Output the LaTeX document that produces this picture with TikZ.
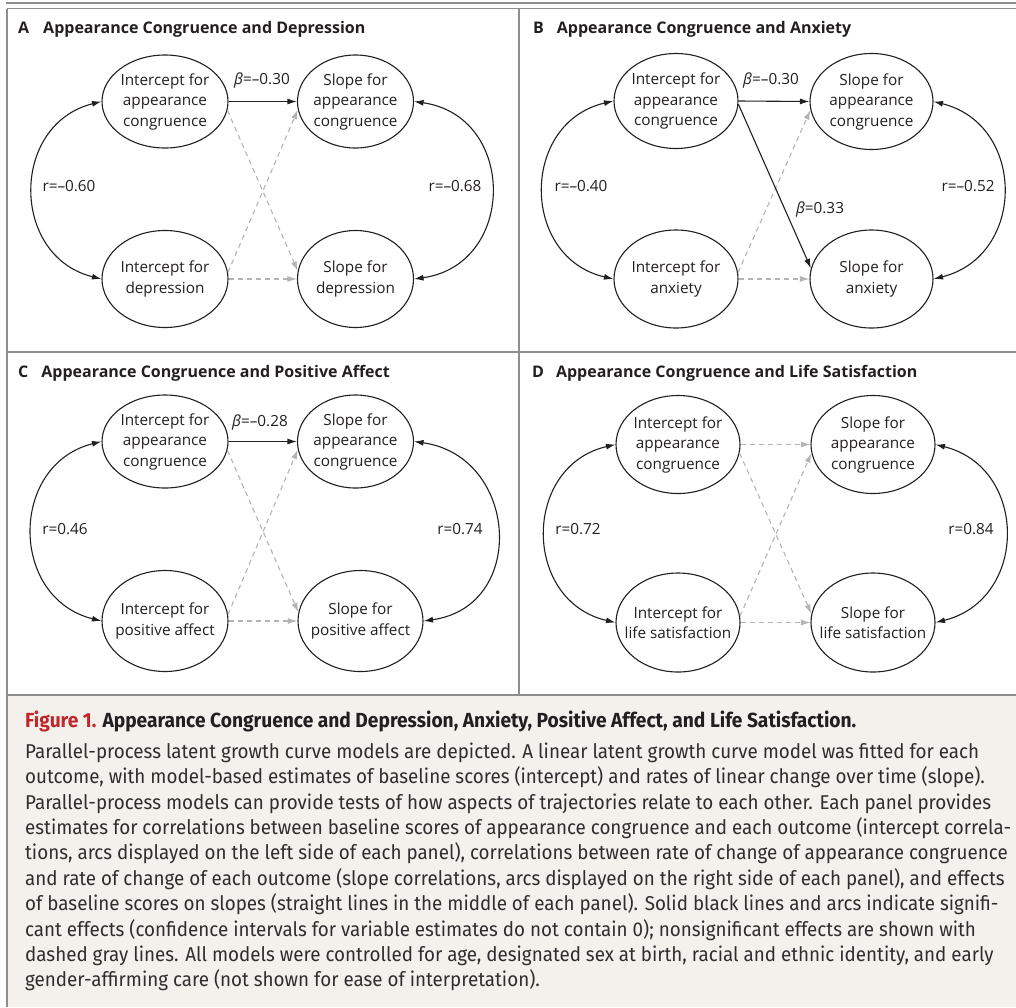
\documentclass[tikz,border=0pt]{standalone}
\usepackage{fontspec}
\setmainfont{Open Sans}
\newfontfamily\capfont[FakeStretch=0.94]{Fira Sans}
\usetikzlibrary{arrows.meta,shapes.geometric}
\definecolor{txt}{HTML}{231F20}
\definecolor{rulegray}{HTML}{8E8E8E}
\definecolor{dashgray}{HTML}{B4B4B4}
\definecolor{capbg}{HTML}{F4F1EC}
\definecolor{figred}{HTML}{C0272D}
\definecolor{captxt}{HTML}{2E2E2E}
\newcommand\ctr[1]{\makebox[0pt][c]{#1}}
\tikzset{
  ell/.style={ellipse, draw=txt, line width=1.1pt, align=center, inner sep=0pt,
    font=\fontsize{15.3}{20.5}\selectfont, text=txt},
  ptitle/.style={anchor=west, font=\fontsize{16}{19}\selectfont\bfseries, text=txt, inner sep=0pt},
  lab/.style={font=\fontsize{15.3}{17}\selectfont, text=txt, inner sep=0pt},
  sig/.style={draw=txt, line width=1.1pt, -{Latex[length=9.5pt,width=6pt]}},
  nsig/.style={draw=dashgray, line width=1.1pt, dash pattern=on 5pt off 4pt,
    -{Latex[length=9.5pt,width=6pt]}},
  arcln/.style={draw=txt, line width=1.1pt, {Latex[length=9.5pt,width=6pt]}-{Latex[length=9.5pt,width=6pt]}},
  larcA/.style={arcln, out=194, in=166, looseness=1.36},
  rarcA/.style={arcln, out=-8, in=8, looseness=1.5},
  larcB/.style={arcln, out=193, in=167, looseness=1.38},
  rarcB/.style={arcln, out=-14, in=14, looseness=1.38},
  frame/.style={draw=rulegray, line width=1.2pt}
}
\begin{document}
\begin{tikzpicture}[x=1pt,y=1pt]
\useasboundingbox (0,0) rectangle (1016,-1007);
\fill[white] (0,0) rectangle (1016,-1007);
\fill[capbg] (7,-695) rectangle (1016,-1007);
% frame
\draw[rulegray, line width=2.2pt] (6,-3) -- (1016,-3);
\draw[frame] (7,-8.5) -- (1016,-8.5);
\draw[frame] (7,-8.5) -- (7,-1007);
\draw[frame] (519,-8.5) -- (519,-695);
\draw[frame] (7,-352) -- (1016,-352);
\draw[frame] (7,-695) -- (1016,-695);

% ---------- Panel A ----------
\node[ptitle] (a-t) at (18,-29) {A\hspace{14pt}Appearance Congruence and Depression};
\node[ell, minimum width=126, minimum height=93] (a-ia) at (165,-101.5) {\ctr{Intercept for}\\\ctr{appearance}\\\ctr{congruence}};
\node[ell, minimum width=116, minimum height=93] (a-sa) at (355.5,-101.5) {\ctr{Slope for}\\\ctr{appearance}\\\ctr{congruence}};
\node[ell, minimum width=126, minimum height=97] (a-id) at (165,-279) {\ctr{Intercept for}\\\ctr{depression}};
\node[ell, minimum width=116, minimum height=97] (a-sd) at (355.5,-279) {\ctr{Slope for}\\\ctr{depression}};
\draw[nsig] (a-ia.-8) -- (a-sd.172);
\draw[nsig] (a-id.6) -- (a-sa.188);
\draw[nsig] (a-id.east) -- (a-sd.west);
\draw[sig] (a-ia.east) -- (a-sa.west);
\node[lab] (a-b1) at (262,-80) {\textit{β}=–0.30};
\draw[larcA] (a-ia.west) to (a-id.west);
\draw[rarcA] (a-sa.east) to (a-sd.east);
\node[lab] (a-r1) at (69,-186) {r=–0.60};
\node[lab] (a-r2) at (455,-186) {r=–0.68};

% ---------- Panel B ----------
\node[ptitle] (b-t) at (533,-29) {B\hspace{13pt}Appearance Congruence and Anxiety};
\node[ell, minimum width=124, minimum height=95] (b-ia) at (676,-101) {\ctr{Intercept for}\\\ctr{appearance}\\\ctr{congruence}};
\node[ell, minimum width=123, minimum height=96] (b-sa) at (871.5,-101.5) {\ctr{Slope for}\\\ctr{appearance}\\\ctr{congruence}};
\node[ell, minimum width=124, minimum height=98] (b-id) at (676,-279) {\ctr{Intercept for}\\\ctr{anxiety}};
\node[ell, minimum width=123, minimum height=98] (b-sd) at (871.5,-279) {\ctr{Slope for}\\\ctr{anxiety}};
\draw[nsig] (b-id.6) -- (b-sa.188);
\draw[nsig] (b-id.east) -- (b-sd.west);
\draw[sig] (b-ia.east) -- (b-sa.west);
\draw[sig] (b-ia.-3) -- (b-sd.170);
\node[lab] (b-b1) at (771,-80) {\textit{β}=–0.30};
\node[lab] (b-b2) at (820,-209) {\textit{β}=0.33};
\draw[larcB] (b-ia.west) to (b-id.west);
\draw[rarcB] (b-sa.east) to (b-sd.east);
\node[lab] (b-r1) at (581,-186) {r=–0.40};
\node[lab] (b-r2) at (968,-186) {r=–0.52};

% ---------- Panel C ----------
\node[ptitle] (c-t) at (18,-373) {C\hspace{13pt}Appearance Congruence and Positive Affect};
\node[ell, minimum width=126, minimum height=93] (c-ia) at (165,-441.5) {\ctr{Intercept for}\\\ctr{appearance}\\\ctr{congruence}};
\node[ell, minimum width=116, minimum height=93] (c-sa) at (355.5,-441.5) {\ctr{Slope for}\\\ctr{appearance}\\\ctr{congruence}};
\node[ell, minimum width=126, minimum height=101] (c-id) at (165,-621) {\ctr{Intercept for}\\\ctr{positive affect}};
\node[ell, minimum width=125, minimum height=101] (c-sd) at (360.5,-621) {\ctr{Slope for}\\\ctr{positive affect}};
\draw[nsig] (c-ia.-8) -- (c-sd.172);
\draw[nsig] (c-id.6) -- (c-sa.188);
\draw[nsig] (c-id.east) -- (c-sd.west);
\draw[sig] (c-ia.east) -- (c-sa.west);
\node[lab] (c-b1) at (260,-422) {\textit{β}=–0.28};
\draw[larcA] (c-ia.west) to (c-id.west);
\draw[rarcA] (c-sa.east) to (c-sd.east);
\node[lab] (c-r1) at (65,-529) {r=0.46};
\node[lab] (c-r2) at (460,-529) {r=0.74};

% ---------- Panel D ----------
\node[ptitle] (d-t) at (532,-373) {D\hspace{12pt}Appearance Congruence and Life Satisfaction};
\node[ell, minimum width=124, minimum height=98] (d-ia) at (678,-444.5) {\ctr{Intercept for}\\\ctr{appearance}\\\ctr{congruence}};
\node[ell, minimum width=124, minimum height=98] (d-sa) at (873,-444.5) {\ctr{Slope for}\\\ctr{appearance}\\\ctr{congruence}};
\node[ell, minimum width=124, minimum height=99] (d-id) at (678,-622.5) {\ctr{Intercept for}\\\ctr{life satisfaction}};
\node[ell, minimum width=124, minimum height=99] (d-sd) at (873,-622.5) {\ctr{Slope for}\\\ctr{life satisfaction}};
\draw[nsig] (d-ia.-8) -- (d-sd.172);
\draw[nsig] (d-id.6) -- (d-sa.188);
\draw[nsig] (d-id.east) -- (d-sd.west);
\draw[nsig] (d-ia.east) -- (d-sa.west);
\draw[larcB] (d-ia.west) to (d-id.west);
\draw[rarcB] (d-sa.east) to (d-sd.east);
\node[lab] (d-r1) at (578,-529) {r=0.72};
\node[lab] (d-r2) at (971,-529) {r=0.84};

% ---------- Caption ----------
\node[anchor=west, inner sep=0pt, font=\capfont\fontsize{20.4}{22}\selectfont\bfseries, text=txt] (cap-t) at (25,-721)
  {\textcolor{figred}{Figure 1.} Appearance Congruence and Depression, Anxiety, Positive Affect, and Life Satisfaction.};
\node[anchor=north west, inner sep=0pt, align=left, font=\capfont\fontsize{20}{25.4}\selectfont, text=captxt] (cap-b) at (25,-742.5)
  {Parallel-process latent growth curve models are depicted. A linear latent growth curve model was fitted for each\\
   outcome, with model-based estimates of baseline scores (intercept) and rates of linear change over time (slope).\\
   Parallel-process models can provide tests of how aspects of trajectories relate to each other. Each panel provides\\
   estimates for correlations between baseline scores of appearance congruence and each outcome (intercept correla-\\
   tions, arcs displayed on the left side of each panel), correlations between rate of change of appearance congruence\\
   and rate of change of each outcome (slope correlations, arcs displayed on the right side of each panel), and effects\\
   of baseline scores on slopes (straight lines in the middle of each panel). Solid black lines and arcs indicate signifi-\\
   cant effects (confidence intervals for variable estimates do not contain 0); nonsignificant effects are shown with\\
   dashed gray lines. All models were controlled for age, designated sex at birth, racial and ethnic identity, and early\\
   gender-affirming care (not shown for ease of interpretation).};
\end{tikzpicture}
\end{document}
